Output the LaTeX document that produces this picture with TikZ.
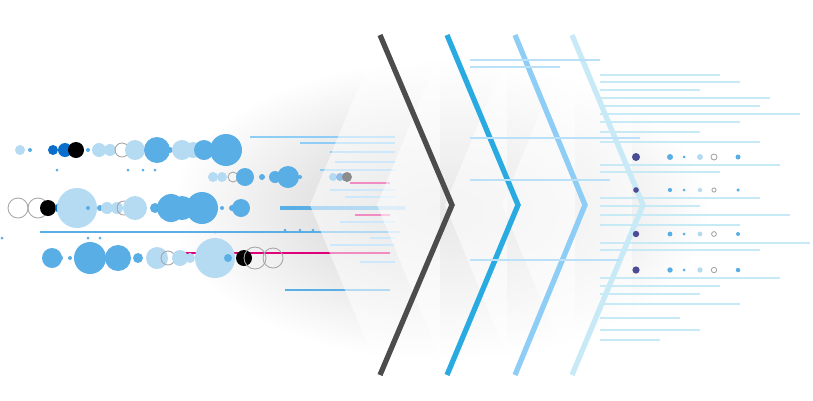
\documentclass[tikz,border=0pt]{standalone}
\usepackage{tikz}
\begin{document}
\begin{tikzpicture}[x=0.02cm,y=-0.02cm]
        % Define styles
        \definecolor{pale}{HTML}{B5DBF3}
        \definecolor{mid}{HTML}{5AAEE6}
        \definecolor{deep}{HTML}{0A6FCC}
        \definecolor{cyanb}{HTML}{29ABE2}
        \definecolor{skyb}{HTML}{8ECDF5}
        \definecolor{icyb}{HTML}{C8EAF6}
        \definecolor{pinkl}{HTML}{E0007A}
        \tikzset{
          pdot/.style={fill=pale},
          mdot/.style={fill=mid},
          ddot/.style={fill=deep},
          kdot/.style={fill=black},
          odot/.style={draw=gray!70, line width=0.5pt},
          trace/.style={line width=0.6pt},
          panel/.style={fill=white, fill opacity=0.55},
          chev/.style={line width=3pt, line join=miter}
        }
        \useasboundingbox (0,0) rectangle (813,400);

        % Shadow
        \shade[inner color=gray!40, outer color=white] (440,210) ellipse (270 and 150);
        \fill[white, opacity=0.6] (0,0) rectangle (180,400);

        % Left traces
        \draw[trace, mid, line width=1.5pt] (40,232) -- (400,232);
        \draw[trace, mid, line width=2pt] (280,208) -- (405,208);
        \draw[trace, pinkl] (185,253) -- (390,253);
        \draw[trace, pinkl] (350,183) -- (390,183);
        \draw[trace, pinkl] (355,215) -- (390,215);
        \draw[trace, mid] (285,290) -- (390,290);
        \foreach \y/\a/\b in {137/250/395, 143/300/395, 152/330/395, 162/335/395, 170/320/395, 190/330/395, 197/345/395, 222/340/395, 238/370/395, 245/330/395, 262/360/395}
          \draw[trace, skyb] (\a,\y) -- (\b,\y);

        % Dots, row by row
        \foreach \x/\r/\s in {20/5/pdot, 30/2/mdot, 53/5/ddot, 65/7/ddot, 76/8/kdot, 88/2/mdot, 99/7/pdot, 110/6/pdot, 122/7/odot, 135/10/pdot, 157/13/mdot, 170/3/mdot, 182/10/pdot, 193/8/pdot, 204/10/mdot, 226/16/mdot}
          \path[\s] (\x,150) circle (\r);
        \foreach \x/\r/\s in {213/5/pdot, 222/5/pdot, 233/5/odot, 245/9/mdot, 262/3/mdot, 275/6/mdot, 288/11/mdot, 300/2/mdot, 333/4/mdot, 340/4/ddot, 347/5/kdot}
          \path[\s] (\x,177) circle (\r);
        \foreach \x/\r/\s in {18/10/odot, 38/10/odot, 48/8/kdot, 60/5/ddot, 68/6/ddot, 77/20/pdot, 88/2/mdot, 100/3/mdot, 107/6/pdot, 117/6/pdot, 124/7/odot, 135/12/pdot, 155/5/mdot, 171/14/mdot, 182/12/mdot, 202/16/mdot, 222/2/mdot, 232/3/mdot, 241/9/mdot}
          \path[\s] (\x,208) circle (\r);
        \foreach \x/\r/\s in {52/10/mdot, 60/3/mdot, 70/2/mdot, 90/16/mdot, 118/13/mdot, 138/5/mdot, 157/11/pdot, 168/7/odot, 180/8/pdot, 190/5/pdot, 205/2/mdot, 215/20/pdot, 228/4/mdot, 244/8/kdot, 255/11/odot, 273/10/odot}
          \path[\s] (\x,258) circle (\r);
        \foreach \x/\y in {57/170, 128/170, 143/170, 155/170, 285/230, 300/230, 313/230, 215/232, 88/238, 100/238, 2/238}
          \path[mdot] (\x,\y) circle (1.5);

        % Panels, then chevrons
        \foreach \dx in {0, 67, 135, 192}
          \path[panel] (380+\dx,35) -- (310+\dx,205) -- (380+\dx,375) -- (440+\dx,375) -- (440+\dx,35) -- cycle;
        \foreach \dx/\tip/\c in {0/452/black!70, 67/518/cyanb, 135/585/skyb, 192/643/icyb}
          \draw[chev, \c] (380+\dx,35) -- (\tip,205) -- (380+\dx,375);

        % Right traces
        \foreach \y/\b in {75/720, 82/740, 90/700, 98/770, 106/760, 114/800, 122/740, 132/700, 142/760, 165/780, 172/720, 198/760, 206/700, 215/790, 225/740, 243/810, 250/760, 278/780, 286/720, 294/700, 304/740, 318/680, 330/700, 340/660}
          \draw[trace, icyb] (600,\y) -- (\b,\y);
        \foreach \y/\b in {60/600, 67/560, 138/640, 180/610, 260/620}
          \draw[trace, skyb!60] (470,\y) -- (\b,\y);

        % Right dots
        \foreach \y/\s in {157/1.0, 190/0.7, 234/0.8, 270/0.9}
        {
          \path[fill=black!60!blue!70] (636,\y) circle (4*\s);
          \path[mdot] (670,\y) circle (3*\s);
          \path[mdot] (684,\y) circle (1.5);
          \path[pdot] (700,\y) circle (3*\s);
          \path[odot] (714,\y) circle (3*\s);
          \path[mdot] (738,\y) circle (2.5*\s);
        }
\end{tikzpicture}
\end{document}
